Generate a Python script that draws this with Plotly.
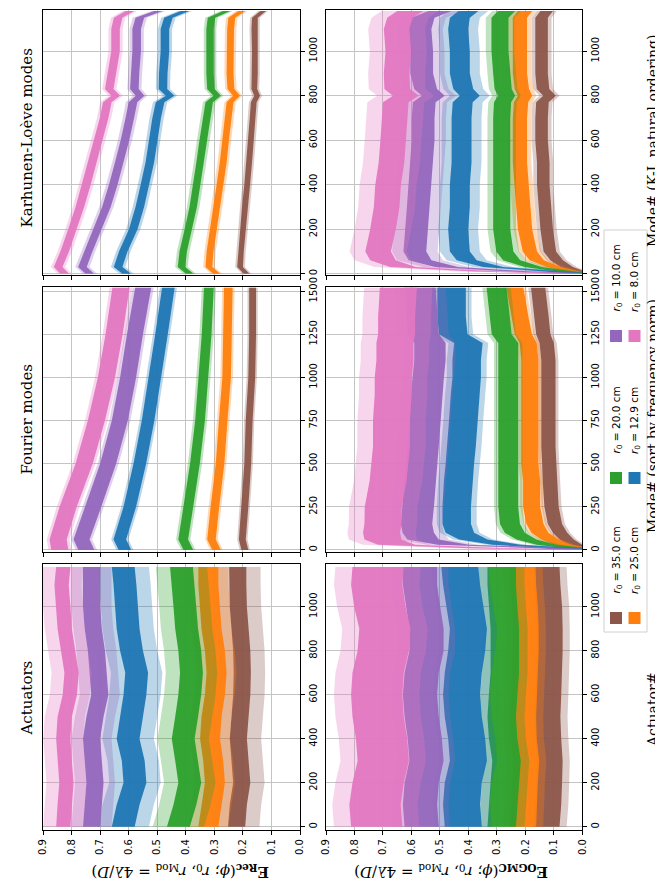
import plotly.graph_objects as go

W, H = 663, 884

R0_LABELS = ["35.0", "25.0", "20.0", "12.9", "10.0", "8.0"]
COLORS = ["#8c564b", "#ff7f0e", "#2ca02c", "#1f77b4", "#9467bd", "#e377c2"]

# ---------------- Karhunen-Loeve modes, E_Rec ----------------
KL_REC_MODES = [0, 30, 100, 200, 300, 400, 500, 600, 700, 770, 800, 830, 900, 1000, 1100, 1150, 1180]
KL_REC_R35 = [0.187, 0.210, 0.207, 0.199, 0.193, 0.185, 0.178, 0.172, 0.166, 0.162, 0.150, 0.160, 0.158, 0.158, 0.160, 0.158, 0.129]
KL_REC_R25 = [0.292, 0.319, 0.315, 0.304, 0.292, 0.280, 0.269, 0.261, 0.251, 0.245, 0.222, 0.242, 0.245, 0.245, 0.243, 0.239, 0.204]
KL_REC_R20 = [0.386, 0.415, 0.409, 0.391, 0.374, 0.362, 0.350, 0.339, 0.327, 0.318, 0.290, 0.312, 0.315, 0.315, 0.315, 0.310, 0.257]
KL_REC_R129 = [0.607, 0.637, 0.619, 0.584, 0.561, 0.543, 0.526, 0.514, 0.502, 0.490, 0.455, 0.480, 0.479, 0.473, 0.473, 0.461, 0.403]
KL_REC_R10 = [0.736, 0.762, 0.742, 0.709, 0.678, 0.654, 0.633, 0.613, 0.596, 0.585, 0.560, 0.580, 0.578, 0.572, 0.572, 0.561, 0.496]
KL_REC_R8 = [0.824, 0.847, 0.824, 0.797, 0.771, 0.748, 0.727, 0.707, 0.686, 0.675, 0.645, 0.668, 0.658, 0.646, 0.646, 0.637, 0.596]
KL_REC_DARK = [0.010, 0.012, 0.013, 0.015, 0.015, 0.015]
KL_REC_LIGHT = [0.017, 0.020, 0.022, 0.025, 0.025, 0.025]

# ---------------- Fourier modes, E_Rec ----------------
FOU_REC_MODES = [0, 60, 250, 500, 750, 1000, 1250, 1520]
FOU_REC_R35 = [0.193, 0.202, 0.193, 0.183, 0.178, 0.169, 0.166, 0.166]
FOU_REC_R25 = [0.292, 0.310, 0.298, 0.280, 0.269, 0.257, 0.254, 0.251]
FOU_REC_R20 = [0.391, 0.409, 0.391, 0.368, 0.350, 0.339, 0.327, 0.319]
FOU_REC_R129 = [0.613, 0.631, 0.596, 0.561, 0.532, 0.508, 0.485, 0.461]
FOU_REC_R10 = [0.748, 0.765, 0.724, 0.672, 0.631, 0.602, 0.578, 0.549]
FOU_REC_R8 = [0.841, 0.847, 0.812, 0.756, 0.713, 0.678, 0.651, 0.627]
FOU_REC_DARK = [0.012, 0.015, 0.017, 0.022, 0.028, 0.030]
FOU_REC_LIGHT = [0.018, 0.022, 0.025, 0.030, 0.037, 0.040]

# ---------------- Actuators, E_Rec ----------------
ACT_MODES = [0, 100, 200, 300, 400, 500, 600, 700, 800, 900, 1000, 1100, 1180]
ACT_REC_R35 = [0.222, 0.216, 0.204, 0.210, 0.216, 0.210, 0.204, 0.202, 0.204, 0.210, 0.216, 0.218, 0.218]
ACT_REC_R25 = [0.321, 0.310, 0.298, 0.304, 0.315, 0.310, 0.298, 0.292, 0.298, 0.310, 0.315, 0.321, 0.321]
ACT_REC_R20 = [0.426, 0.403, 0.386, 0.397, 0.409, 0.397, 0.386, 0.380, 0.386, 0.397, 0.403, 0.409, 0.415]
ACT_REC_R129 = [0.619, 0.602, 0.578, 0.584, 0.602, 0.590, 0.578, 0.572, 0.590, 0.602, 0.607, 0.613, 0.619]
ACT_REC_R10 = [0.730, 0.724, 0.718, 0.724, 0.730, 0.718, 0.701, 0.707, 0.713, 0.724, 0.730, 0.730, 0.730]
ACT_REC_R8 = [0.829, 0.824, 0.818, 0.824, 0.829, 0.824, 0.806, 0.800, 0.812, 0.824, 0.829, 0.835, 0.829]
ACT_REC_DARK = [0.030, 0.035, 0.040, 0.040, 0.030, 0.025]
ACT_REC_LIGHT = [0.080, 0.070, 0.090, 0.090, 0.070, 0.070]

# ---------------- Karhunen-Loeve modes, E_OGMC ----------------
KL_OG_MODES = [0, 10, 30, 60, 100, 200, 300, 400, 500, 600, 700, 770, 800, 830, 900, 1000, 1100, 1150, 1180]
KL_OG_R35 = [0.002, 0.014, 0.055, 0.090, 0.114, 0.125, 0.131, 0.137, 0.137, 0.143, 0.143, 0.140, 0.115, 0.138, 0.143, 0.143, 0.143, 0.143, 0.125]
KL_OG_R25 = [0.002, 0.032, 0.100, 0.160, 0.184, 0.201, 0.207, 0.213, 0.219, 0.219, 0.219, 0.215, 0.201, 0.212, 0.219, 0.219, 0.219, 0.219, 0.201]
KL_OG_R20 = [0.002, 0.055, 0.172, 0.248, 0.272, 0.283, 0.283, 0.283, 0.283, 0.283, 0.283, 0.280, 0.266, 0.278, 0.283, 0.289, 0.289, 0.289, 0.266]
KL_OG_R129 = [0.002, 0.100, 0.313, 0.406, 0.430, 0.436, 0.430, 0.430, 0.424, 0.424, 0.424, 0.420, 0.395, 0.418, 0.430, 0.430, 0.436, 0.430, 0.400]
KL_OG_R10 = [0.008, 0.219, 0.477, 0.570, 0.588, 0.582, 0.576, 0.570, 0.564, 0.559, 0.559, 0.555, 0.523, 0.550, 0.564, 0.564, 0.570, 0.559, 0.500]
KL_OG_R8 = [0.008, 0.336, 0.630, 0.700, 0.717, 0.700, 0.687, 0.682, 0.670, 0.664, 0.658, 0.655, 0.620, 0.650, 0.652, 0.646, 0.652, 0.640, 0.605]
KL_OG_DARK = [0.022, 0.025, 0.030, 0.035, 0.040, 0.045]
KL_OG_LIGHT = [0.035, 0.040, 0.050, 0.070, 0.080, 0.100]

# ---------------- Fourier modes, E_OGMC ----------------
FOU_OG_MODES = [0, 10, 30, 60, 100, 150, 250, 400, 500, 600, 750, 900, 1000, 1100, 1200, 1250, 1350, 1520]
FOU_OG_R35 = [0.008, 0.008, 0.026, 0.055, 0.078, 0.096, 0.108, 0.114, 0.116, 0.119, 0.119, 0.119, 0.119, 0.119, 0.125, 0.137, 0.143, 0.155]
FOU_OG_R25 = [0.008, 0.008, 0.067, 0.114, 0.149, 0.166, 0.178, 0.178, 0.184, 0.184, 0.184, 0.184, 0.184, 0.184, 0.190, 0.207, 0.219, 0.237]
FOU_OG_R20 = [0.008, 0.020, 0.125, 0.196, 0.237, 0.254, 0.260, 0.260, 0.260, 0.260, 0.260, 0.260, 0.260, 0.260, 0.260, 0.283, 0.289, 0.301]
FOU_OG_R129 = [0.008, 0.055, 0.266, 0.383, 0.430, 0.441, 0.441, 0.436, 0.430, 0.424, 0.418, 0.412, 0.406, 0.406, 0.400, 0.453, 0.459, 0.459]
FOU_OG_R10 = [0.008, 0.102, 0.453, 0.559, 0.576, 0.582, 0.576, 0.570, 0.564, 0.559, 0.553, 0.547, 0.541, 0.535, 0.535, 0.559, 0.564, 0.570]
FOU_OG_R8 = [0.008, 0.336, 0.652, 0.700, 0.705, 0.700, 0.699, 0.682, 0.676, 0.670, 0.670, 0.664, 0.664, 0.658, 0.658, 0.652, 0.652, 0.646]
FOU_OG_DARK = [0.025, 0.030, 0.035, 0.050, 0.055, 0.065]
FOU_OG_LIGHT = [0.035, 0.040, 0.050, 0.070, 0.090, 0.120]

# ---------------- Actuators, E_OGMC ----------------
ACT_OG_R35 = [0.125, 0.119, 0.116, 0.114, 0.119, 0.122, 0.119, 0.116, 0.114, 0.114, 0.116, 0.122, 0.125]
ACT_OG_R25 = [0.207, 0.205, 0.201, 0.196, 0.205, 0.207, 0.205, 0.201, 0.198, 0.198, 0.201, 0.207, 0.209]
ACT_OG_R20 = [0.283, 0.278, 0.272, 0.266, 0.278, 0.283, 0.278, 0.272, 0.272, 0.272, 0.278, 0.283, 0.283]
ACT_OG_R129 = [0.418, 0.424, 0.418, 0.400, 0.406, 0.418, 0.424, 0.418, 0.406, 0.400, 0.412, 0.424, 0.430]
ACT_OG_R10 = [0.564, 0.570, 0.564, 0.547, 0.553, 0.564, 0.570, 0.564, 0.547, 0.547, 0.559, 0.570, 0.570]
ACT_OG_R8 = [0.722, 0.728, 0.717, 0.699, 0.705, 0.717, 0.722, 0.717, 0.699, 0.693, 0.711, 0.722, 0.717]
ACT_OG_DARK = [0.045, 0.045, 0.050, 0.065, 0.060, 0.090]
ACT_OG_LIGHT = [0.070, 0.070, 0.080, 0.100, 0.100, 0.150]

VALUE_TICKS = [0.0, 0.1, 0.2, 0.3, 0.4, 0.5, 0.6, 0.7, 0.8, 0.9]


def rgba(hexc, a):
    h = hexc.lstrip("#")
    return "rgba(%d,%d,%d,%s)" % (int(h[0:2], 16), int(h[2:4], 16), int(h[4:6], 16), a)


LEFT = (35 / W, 292 / W)
RIGHT = (318 / W, 574.3 / W)
ROWS = {"KL": (2, 267), "FOU": (278.5, 544), "ACT": (556, 822)}
MODE_RANGES = {"KL": [-6, 1185], "FOU": [-12, 1527], "ACT": [-15, 1194]}
MODE_TICKS = {"KL": [0, 200, 400, 600, 800, 1000],
              "FOU": [0, 250, 500, 750, 1000, 1250, 1500],
              "ACT": [0, 200, 400, 600, 800, 1000]}

panels = [
    (KL_REC_MODES, [KL_REC_R35, KL_REC_R25, KL_REC_R20, KL_REC_R129, KL_REC_R10, KL_REC_R8], KL_REC_DARK, KL_REC_LIGHT, LEFT, "KL"),
    (FOU_REC_MODES, [FOU_REC_R35, FOU_REC_R25, FOU_REC_R20, FOU_REC_R129, FOU_REC_R10, FOU_REC_R8], FOU_REC_DARK, FOU_REC_LIGHT, LEFT, "FOU"),
    (ACT_MODES, [ACT_REC_R35, ACT_REC_R25, ACT_REC_R20, ACT_REC_R129, ACT_REC_R10, ACT_REC_R8], ACT_REC_DARK, ACT_REC_LIGHT, LEFT, "ACT"),
    (KL_OG_MODES, [KL_OG_R35, KL_OG_R25, KL_OG_R20, KL_OG_R129, KL_OG_R10, KL_OG_R8], KL_OG_DARK, KL_OG_LIGHT, RIGHT, "KL"),
    (FOU_OG_MODES, [FOU_OG_R35, FOU_OG_R25, FOU_OG_R20, FOU_OG_R129, FOU_OG_R10, FOU_OG_R8], FOU_OG_DARK, FOU_OG_LIGHT, RIGHT, "FOU"),
    (ACT_MODES, [ACT_OG_R35, ACT_OG_R25, ACT_OG_R20, ACT_OG_R129, ACT_OG_R10, ACT_OG_R8], ACT_OG_DARK, ACT_OG_LIGHT, RIGHT, "ACT"),
]

fig = go.Figure()
layout = dict(
    width=W, height=H, margin=dict(l=0, r=0, t=0, b=0),
    paper_bgcolor="white", plot_bgcolor="white", showlegend=False,
    font=dict(family="DejaVu Sans", size=10, color="black"),
)

for i, (modes, series, dark, light, col, row) in enumerate(panels, start=1):
    xa = "x" if i == 1 else "x%d" % i
    ya = "y" if i == 1 else "y%d" % i
    for k, vals in enumerate(series):
        c = COLORS[k]
        for hw, fc in ((light[k], rgba(c, 0.3)), (dark[k], rgba(c, 0.95))):
            lo = [v - hw for v in vals]
            hi = [v + hw for v in vals]
            fig.add_trace(go.Scatter(
                x=lo + hi[::-1], y=list(modes) + list(modes)[::-1],
                fill="toself", fillcolor=fc, mode="lines", line=dict(width=0),
                hoverinfo="skip", xaxis=xa, yaxis=ya))
    r0, r1 = ROWS[row]
    ydom = [(H - r1) / H, (H - r0) / H]
    layout["xaxis" if i == 1 else "xaxis%d" % i] = dict(
        domain=list(col), anchor=ya, range=[0.9, 0.0], tickvals=VALUE_TICKS,
        ticktext=["%.1f" % v for v in VALUE_TICKS], tickangle=-90,
        showticklabels=(row == "ACT"), ticks="outside", ticklen=4, tickwidth=1,
        tickcolor="black", showline=True, linecolor="black", linewidth=1.2,
        mirror=True, showgrid=True, gridcolor="#c4c4c4", gridwidth=1,
        zeroline=False, automargin=False, tickfont=dict(family="DejaVu Sans", size=10))
    layout["yaxis" if i == 1 else "yaxis%d" % i] = dict(
        domain=ydom, anchor=xa, side="right", range=MODE_RANGES[row],
        tickvals=MODE_TICKS[row], tickangle=-90, ticks="outside", ticklen=4,
        tickwidth=1, tickcolor="black", showline=True, linecolor="black",
        linewidth=1.2, mirror=True, showgrid=True, gridcolor="#c4c4c4",
        gridwidth=1, zeroline=False, automargin=False,
        tickfont=dict(family="DejaVu Sans", size=10))

fig.update_layout(**layout)


def P(px, py):
    return px / W, 1 - py / H


annotations = []
serif = "DejaVu Serif"
for text, py in (("Karhunen-Loève modes", 130), ("Fourier modes", 411), ("Actuators", 690)):
    x, y = P(18.5, py)
    annotations.append(dict(x=x, y=y, xref="paper", yref="paper", text=text, textangle=-90,
                            showarrow=False, xanchor="center", yanchor="middle",
                            font=dict(family=serif, size=15, color="black")))

for text, py in (("Mode# (K-L natural ordering)", 133), ("Mode# (sort by frequency norm)", 408), ("Actuator#", 702)):
    x, y = P(645, py)
    annotations.append(dict(x=x, y=y, xref="paper", yref="paper", text=text, textangle=-90,
                            showarrow=False, xanchor="center", yanchor="middle",
                            font=dict(family=serif, size=14, color="black")))

ylab_tail = "(<i>ϕ</i>; <i>r</i><sub>0</sub>, <i>r</i><sub>Mod</sub> = 4<i>λ</i>/<i>D</i>)"
for text, px in (("<b>E</b><sub><b>Rec</b></sub>" + ylab_tail, 172),
                 ("<b>E</b><sub><b>OGMC</b></sub>" + ylab_tail, 443)):
    x, y = P(px, 864)
    annotations.append(dict(x=x, y=y, xref="paper", yref="paper", text=text, textangle=180,
                            showarrow=False, xanchor="center", yanchor="middle",
                            font=dict(family=serif, size=15, color="black")))

shapes = []
x0, y0 = P(596, 624)
x1, y1 = P(639, 222)
shapes.append(dict(type="rect", xref="paper", yref="paper", x0=x0, y0=y0, x1=x1, y1=y1,
                   line=dict(color="#d0d0d0", width=1), fillcolor="rgba(255,255,255,0.8)"))
COLS_X = [(602, 614), (620.5, 632.5)]
ROW_SQ = [(604, 616), (464, 476), (322, 334)]
for k, lab in enumerate(R0_LABELS):
    grp, sub = divmod(k, 2)
    sx0, sx1 = COLS_X[sub]
    sy_top, sy_bot = ROW_SQ[grp]
    a0, b0 = P(sx0, sy_bot)
    a1, b1 = P(sx1, sy_top)
    shapes.append(dict(type="rect", xref="paper", yref="paper", x0=a0, y0=b0, x1=a1, y1=b1,
                       line=dict(width=0), fillcolor=COLORS[k]))
    tx, ty = P((sx0 + sx1) / 2, sy_top - 16)
    annotations.append(dict(x=tx, y=ty, xref="paper", yref="paper",
                            text="<i>r</i><sub>0</sub> = %s cm" % lab, textangle=-90,
                            showarrow=False, xanchor="center", yanchor="bottom",
                            font=dict(family="DejaVu Sans", size=10.5, color="black")))

fig.update_layout(annotations=annotations, shapes=shapes)
fig.write_html("out.html")
